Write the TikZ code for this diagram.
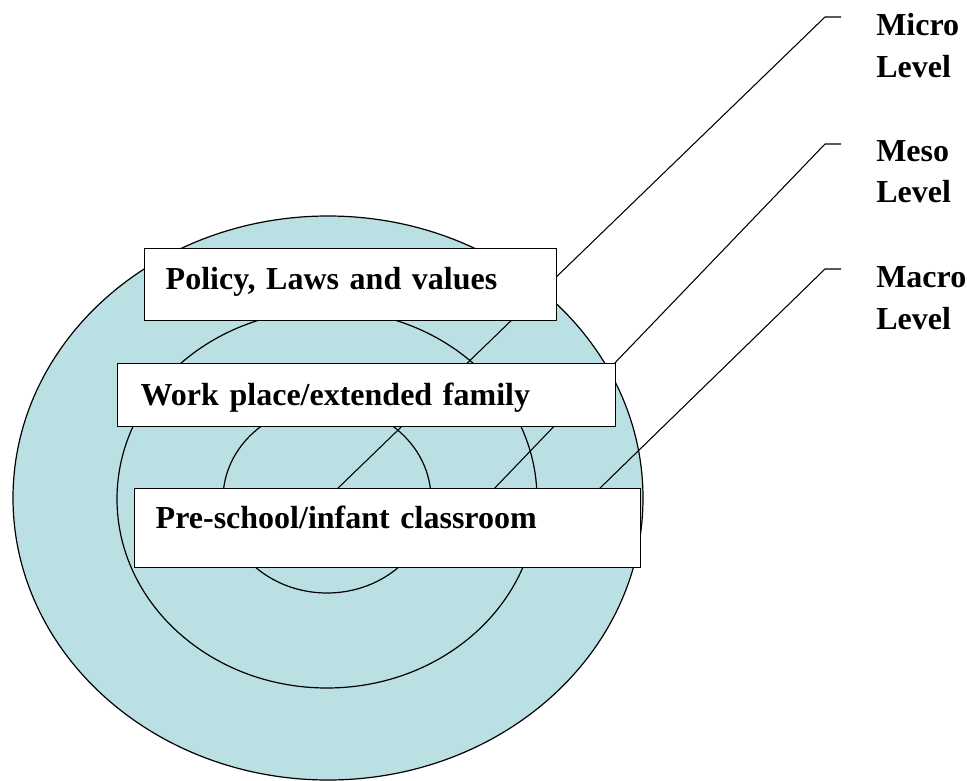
\documentclass[tikz,border=0pt]{standalone}
\usepackage{fontspec}
\setmainfont{Liberation Serif}
\definecolor{ringblue}{RGB}{187,224,227}
\tikzset{
  ring/.style={fill=ringblue, draw=black, line width=0.9pt},
  levelbox/.style={draw=black, fill=white, line width=1.1pt, anchor=north west, align=left,
    inner ysep=0pt, font=\fontsize{24}{29}\selectfont\bfseries},
  levellabel/.style={anchor=base west, align=left, inner ysep=0pt, inner xsep=26.25pt,
    font=\fontsize{24}{31.5}\selectfont\bfseries},
  pointer/.style={draw=black, line width=0.8pt}
}

\begin{document}
\begin{tikzpicture}[x=0.75pt, y=-0.75pt]
    \useasboundingbox (0,0) rectangle (967,781);

    % the three rings
    \draw[ring] (328,498) ellipse (236.25pt and 211.5pt);
    \draw[ring] (327,499) ellipse (157.5pt and 141.75pt);
    \draw[ring] (327,499) ellipse (78pt and 70.5pt);

    % the level names on the right (base = baseline of the second line)
    \node[levellabel] (micro) at (841,78) {Micro\\Level};
    \node[levellabel] (meso) at (841,203) {Meso\\Level};
    \node[levellabel] (macro) at (841,329) {Macro\\Level};

    % where the pointers bend and where they end (under the bottom box)
    \coordinate (micro-bend) at (825,17);
    \coordinate (meso-bend) at (825,144);
    \coordinate (macro-bend) at (825,269);
    \coordinate (micro-tip) at (334,492);
    \coordinate (meso-tip) at (491,492);
    \coordinate (macro-tip) at (596,492);

    \draw[pointer] (micro-tip) -- (micro-bend) -- (micro-bend -| micro.west);
    \draw[pointer] (meso-tip) -- (meso-bend) -- (meso-bend -| meso.west);
    \draw[pointer] (macro-tip) -- (macro-bend) -- (macro-bend -| macro.west);

    % the boxes on top
    \node[levelbox, inner xsep=15.75pt, text width=277.5pt, text height=30.75pt, text depth=23.25pt]
        (policy) at (144,248) {Policy, Laws and values};
    \node[levelbox, inner xsep=17.25pt, text width=339pt, text height=31.5pt, text depth=15.75pt]
        (workplace) at (117,363) {Work place/extended family};
    \node[levelbox, inner xsep=15.75pt, text width=348pt, text height=30pt, text depth=29.25pt]
        (preschool) at (134,488) {Pre-school/infant classroom};
\end{tikzpicture}
\end{document}
